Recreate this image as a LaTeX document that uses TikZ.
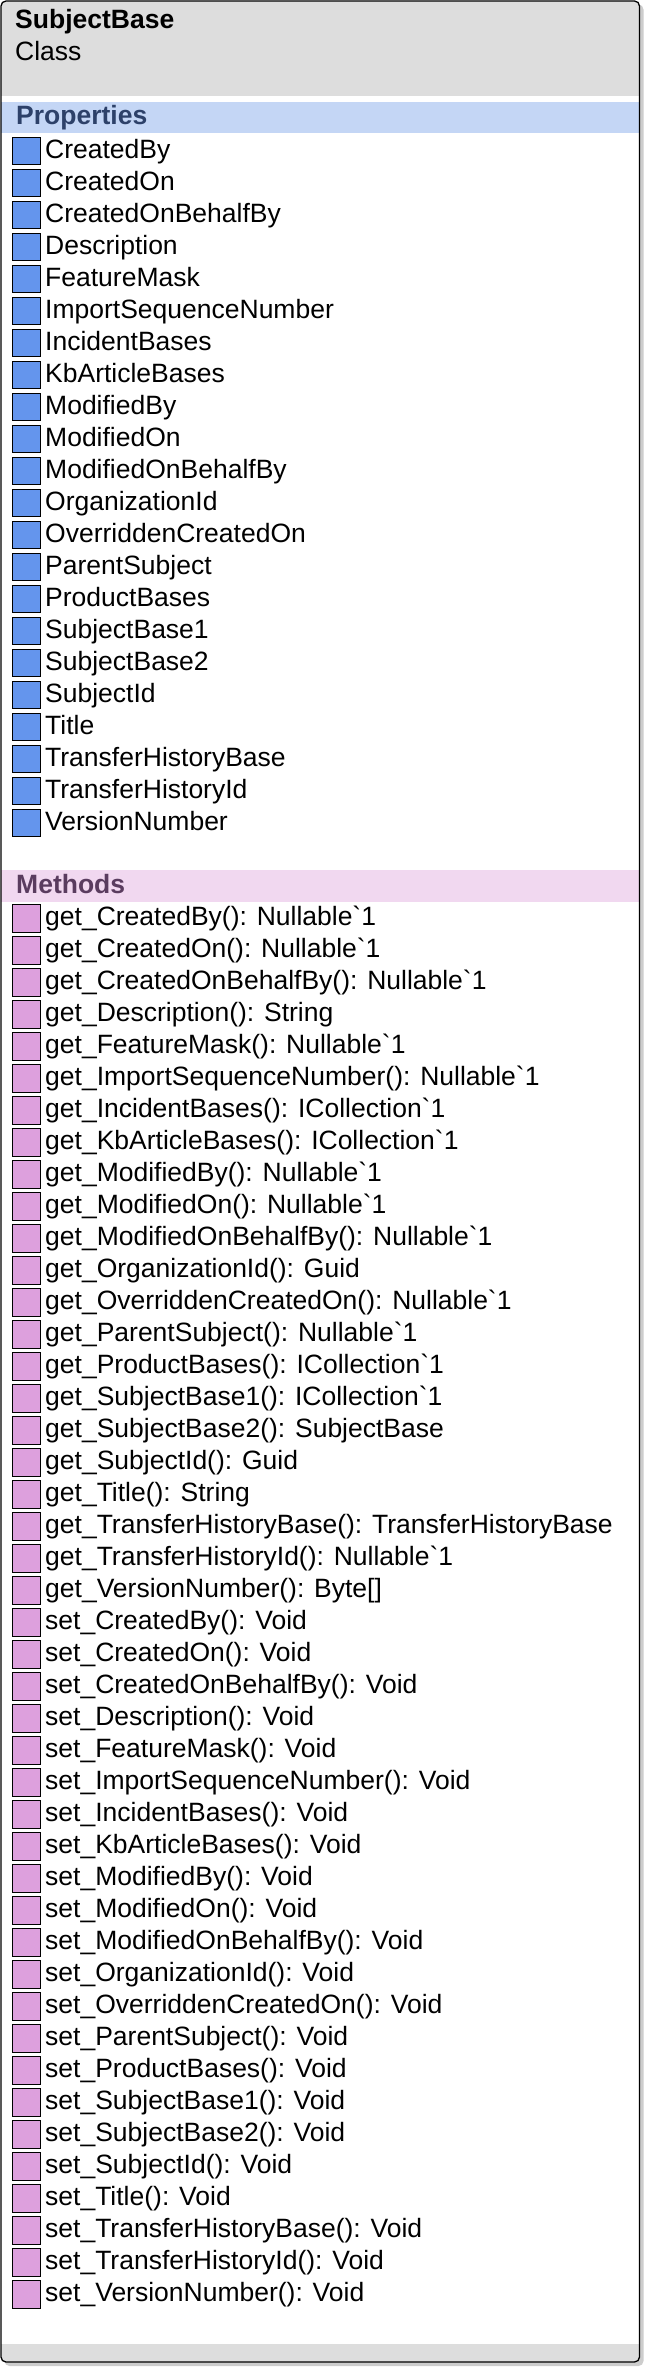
\documentclass[tikz,border=0pt]{standalone}
\usepackage{fontspec}
\setmainfont{Liberation Sans}
\definecolor{hdr}{RGB}{221,221,221}
\definecolor{propband}{RGB}{196,214,245}
\definecolor{proptxt}{RGB}{45,65,105}
\definecolor{propfill}{RGB}{100,149,237}
\definecolor{methband}{RGB}{241,216,240}
\definecolor{methtxt}{RGB}{90,60,95}
\definecolor{methfill}{RGB}{221,160,221}
\definecolor{shadowgray}{RGB}{205,205,205}
\newcommand{\bq}{\textasciigrave}
\begin{document}
\begin{tikzpicture}[x=1pt,y=-1pt,
  txt/.style={anchor=base west,inner sep=0pt,font=\fontsize{26.5}{30}\selectfont},
  boldtxt/.style={anchor=base west,inner sep=0pt,font=\fontsize{26.5}{30}\selectfont\bfseries},
  picon/.style={draw=black,line width=1.1pt,fill=propfill,minimum width=28pt,minimum height=27.5pt,inner sep=0pt,anchor=north west},
  micon/.style={picon,fill=methfill}]
\useasboundingbox (0,0) rectangle (646,2368);
% shadow
\fill[shadowgray,rounded corners=5pt] (4.5,4.5) rectangle (643.5,2366);
% body
\fill[white,rounded corners=5pt] (1,1) rectangle (639.5,2362);
\begin{scope}
  \clip[rounded corners=5pt] (1,1) rectangle (639.5,2362);
  \fill[hdr] (0,0) rectangle (646,96);
  \fill[propband] (0,102) rectangle (646,133.5);
  \fill[methband] (0,870) rectangle (646,901.5);
  \fill[hdr] (0,2344) rectangle (646,2362);
\end{scope}
\draw[black,line width=1.3pt,rounded corners=5pt] (1,1) rectangle (639.5,2362);
% header
\node[boldtxt] (title) at (15,29) {SubjectBase};
\node[txt] (kind) at (15,61) {Class};
\node[boldtxt,text=proptxt] (props) at (16,125) {Properties};
\node[boldtxt,text=methtxt] (meths) at (16,893) {Methods};
% properties
\foreach \t [count=\i] in {CreatedBy,CreatedOn,CreatedOnBehalfBy,Description,FeatureMask,ImportSequenceNumber,IncidentBases,KbArticleBases,ModifiedBy,ModifiedOn,ModifiedOnBehalfBy,OrganizationId,OverriddenCreatedOn,ParentSubject,ProductBases,SubjectBase1,SubjectBase2,SubjectId,Title,TransferHistoryBase,TransferHistoryId,VersionNumber}{
  \node[picon] (pi\i) at (12.3,{136.7+32*(\i-1)}) {};
  \node[txt] (p\i) at (45,{158.2+32*(\i-1)}) {\t};
}
% methods
\foreach \t [count=\i] in {
get\_CreatedBy(): Nullable\bq1,
get\_CreatedOn(): Nullable\bq1,
get\_CreatedOnBehalfBy(): Nullable\bq1,
get\_Description(): String,
get\_FeatureMask(): Nullable\bq1,
get\_ImportSequenceNumber(): Nullable\bq1,
get\_IncidentBases(): ICollection\bq1,
get\_KbArticleBases(): ICollection\bq1,
get\_ModifiedBy(): Nullable\bq1,
get\_ModifiedOn(): Nullable\bq1,
get\_ModifiedOnBehalfBy(): Nullable\bq1,
get\_OrganizationId(): Guid,
get\_OverriddenCreatedOn(): Nullable\bq1,
get\_ParentSubject(): Nullable\bq1,
get\_ProductBases(): ICollection\bq1,
get\_SubjectBase1(): ICollection\bq1,
get\_SubjectBase2(): SubjectBase,
get\_SubjectId(): Guid,
get\_Title(): String,
get\_TransferHistoryBase(): TransferHistoryBase,
get\_TransferHistoryId(): Nullable\bq1,
get\_VersionNumber(): Byte[],
set\_CreatedBy(): Void,
set\_CreatedOn(): Void,
set\_CreatedOnBehalfBy(): Void,
set\_Description(): Void,
set\_FeatureMask(): Void,
set\_ImportSequenceNumber(): Void,
set\_IncidentBases(): Void,
set\_KbArticleBases(): Void,
set\_ModifiedBy(): Void,
set\_ModifiedOn(): Void,
set\_ModifiedOnBehalfBy(): Void,
set\_OrganizationId(): Void,
set\_OverriddenCreatedOn(): Void,
set\_ParentSubject(): Void,
set\_ProductBases(): Void,
set\_SubjectBase1(): Void,
set\_SubjectBase2(): Void,
set\_SubjectId(): Void,
set\_Title(): Void,
set\_TransferHistoryBase(): Void,
set\_TransferHistoryId(): Void,
set\_VersionNumber(): Void}{
  \node[micon] (mi\i) at (12.3,{904.3+32*(\i-1)}) {};
  \node[txt] (m\i) at (45,{925.8+32*(\i-1)}) {\t};
}
\end{tikzpicture}
\end{document}
